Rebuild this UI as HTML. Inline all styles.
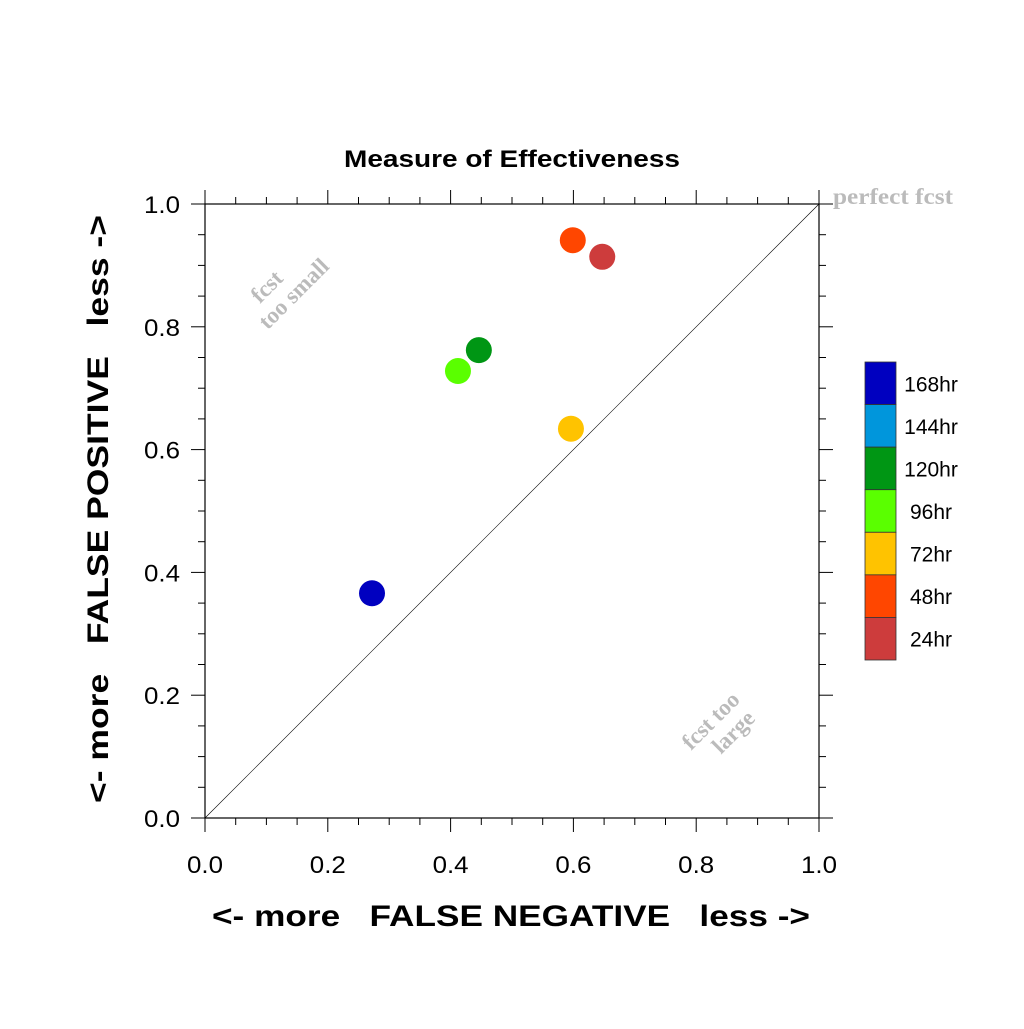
<!DOCTYPE html>
<html><head><meta charset="utf-8"><style>
body{margin:0;background:#fff}
svg text{font-family:"Liberation Sans",sans-serif}
</style></head><body>
<svg id="chart" width="1024" height="1024" xmlns="http://www.w3.org/2000/svg">
<rect width="1024" height="1024" fill="#fff"/>
<text x="344" y="167" textLength="336" lengthAdjust="spacingAndGlyphs" font-size="24" font-weight="bold">Measure of Effectiveness</text>
<g id="axes"></g>
<g id="pts"></g>
<g id="legend"></g>
<text x="212" y="926" textLength="598" lengthAdjust="spacingAndGlyphs" font-size="30" font-weight="bold" xml:space="preserve">&lt;- more   FALSE NEGATIVE   less -&gt;</text>
<text transform="translate(108,803) rotate(-90)" textLength="588" lengthAdjust="spacingAndGlyphs" font-size="30" font-weight="bold" xml:space="preserve">&lt;- more   FALSE POSITIVE   less -&gt;</text>
<text x="833" y="204" textLength="120" lengthAdjust="spacingAndGlyphs" font-size="23" font-weight="bold" fill="#bbb" style="font-family:'Liberation Serif',serif">perfect fcst</text>
<g transform="translate(282,282) rotate(-45)" fill="#bbb" font-size="23" font-weight="bold">
<text x="-14" y="0" text-anchor="middle" style="font-family:'Liberation Serif',serif">fcst</text>
<text x="0" y="24" text-anchor="middle" style="font-family:'Liberation Serif',serif">too small</text></g>
<g transform="translate(716,726) rotate(-45)" fill="#bbb" font-size="23" font-weight="bold">
<text x="0" y="0" text-anchor="middle" style="font-family:'Liberation Serif',serif">fcst too</text>
<text x="8" y="24" text-anchor="middle" style="font-family:'Liberation Serif',serif">large</text></g>
</svg>
<script>
const categories=["168hr","144hr","120hr","96hr","72hr","48hr","24hr"];
const colors=["#0000c0","#0096dc","#009614","#5aff00","#ffc300","#ff4600","#cd3c3c"];
const fnValues=[0.272,null,0.446,0.412,0.596,0.599,0.647];
const fpValues=[0.366,null,0.762,0.728,0.634,0.941,0.914];
const tickLabels=["0.0","0.2","0.4","0.6","0.8","1.0"];
const tickValues=[0,0.2,0.4,0.6,0.8,1.0];
const NS="http://www.w3.org/2000/svg";
const L=205,R=819,T=204,B=818;
const xs=v=>L+v*(R-L), ys=v=>B-v*(B-T);
function mk(tag,at,parent,txt){const e=document.createElementNS(NS,tag);for(const k in at)e.setAttribute(k,at[k]);if(txt!==undefined)e.textContent=txt;parent.appendChild(e);return e;}
const ax=document.getElementById('axes');
const frame=mk('rect',{x:L,y:T,width:R-L,height:B-T,fill:'none',stroke:'#000','stroke-width':1.2},ax);


const diag=mk('line',{x1:xs(0),y1:ys(0),x2:xs(1),y2:ys(1),stroke:'#000','stroke-width':0.6},ax);


for(let i=0;i<=20;i++){const v=i/20;const maj=i%4===0;const len=maj?14:7;
 mk('line',{x1:xs(v),y1:B,x2:xs(v),y2:B+len,stroke:'#000'},ax);
 mk('line',{x1:xs(v),y1:T,x2:xs(v),y2:T-len,stroke:'#000'},ax);
 mk('line',{x1:L,y1:ys(v),x2:L-len,y2:ys(v),stroke:'#000'},ax);
 mk('line',{x1:R,y1:ys(v),x2:R+len,y2:ys(v),stroke:'#000'},ax);}
tickValues.forEach((v,i)=>{
 const a=mk('text',{x:xs(v),y:873,'text-anchor':'middle','font-size':24,textLength:36,lengthAdjust:'spacingAndGlyphs'},ax,tickLabels[i]);
 
 
 const b=mk('text',{x:180,y:ys(v)+9,'text-anchor':'end','font-size':24,textLength:36,lengthAdjust:'spacingAndGlyphs'},ax,tickLabels[i]);
 
 
});
const pg=document.getElementById('pts');
categories.forEach((c,i)=>{if(fnValues[i]==null)return;
 const p=mk('circle',{cx:xs(fnValues[i]),cy:ys(fpValues[i]),r:13,fill:colors[i]},pg);
 
 
});
const lg=document.getElementById('legend');
const bh=(660-362)/categories.length;
categories.forEach((c,i)=>{
 const r=mk('rect',{x:865,y:362+i*bh,width:31,height:bh,fill:colors[i],stroke:'#333','stroke-width':0.8},lg);
 
 
 const t=mk('text',{x:931,y:362+i*bh+bh/2+8,'text-anchor':'middle','font-size':21},lg,c);
 
 
});
</script>
</body></html>
